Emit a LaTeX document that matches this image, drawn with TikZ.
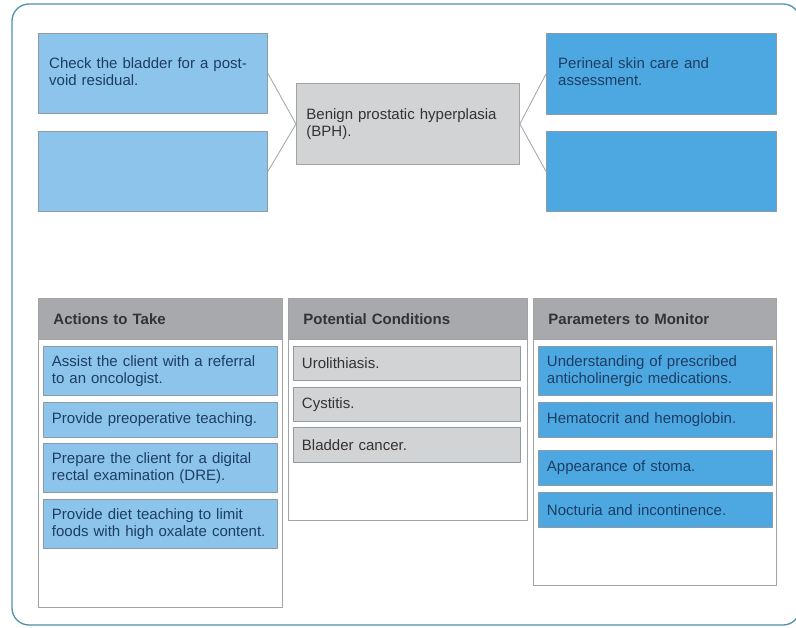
\documentclass[tikz,border=0pt]{standalone}
\usepackage{fontspec}
\setmainfont{Liberation Sans}
\usetikzlibrary{positioning}
\definecolor{frame}{HTML}{4E93A8}
\definecolor{paleblue}{HTML}{8DC4EB}
\definecolor{midblue}{HTML}{4DA8E1}
\definecolor{cellgray}{HTML}{D2D3D5}
\definecolor{headgray}{HTML}{A7A9AC}
\definecolor{edge}{HTML}{8E9AA4}
\definecolor{rule}{HTML}{A3A3A3}
\definecolor{navy}{HTML}{1D3E63}
\definecolor{ink}{HTML}{333333}

\begin{document}
\begin{tikzpicture}[x=1pt,y=-1pt,line join=round,
  font=\fontsize{15}{17.5}\selectfont,
  box/.style={anchor=north west,draw=edge,line width=.9pt,inner sep=0pt},
  boxtext/.style={anchor=north west,align=left,inner sep=0pt,text=navy},
  item/.style={anchor=north west,draw=edge,line width=.9pt,align=left,
    inner xsep=8.5pt,inner ysep=0pt,text=navy},
  column/.style={anchor=north west,draw=rule,line width=.9pt,fill=white,inner sep=0pt},
  colhead/.style={anchor=north west,fill=headgray,draw=rule,line width=.9pt,
    minimum height=41pt,align=left,inner xsep=15pt,text=ink,font=\fontsize{15}{17.5}\selectfont\bfseries},
  link/.style={draw=rule,line width=.8pt}]
  \path[use as bounding box] (0,0) rectangle (796,628);
  \fill[white] (0,0) rectangle (796,628);
  \draw[frame,line width=1.3pt,rounded corners=17pt] (12,4) rectangle (800,625);

  \node[box,fill=paleblue,minimum width=229pt,minimum height=80pt] (chk) at (38,33) {};
  \node[boxtext,text width=205pt] (chktxt) at (49,57) {Check the bladder for a post-\\void residual.};
  \node[box,fill=paleblue,minimum width=229pt,minimum height=80pt] (lblank) at (38,131) {};

  \node[box,fill=cellgray,draw=rule,minimum width=223pt,minimum height=81pt,
    align=left,text width=203pt,inner xsep=10pt,text=ink] (bph) at (296,83) {Benign prostatic hyperplasia\\(BPH).};

  \node[box,fill=midblue,minimum width=230pt,minimum height=81pt] (skin) at (546,33) {};
  \node[boxtext,text width=205pt] (skintxt) at (558,57) {Perineal skin care and\\assessment.};
  \node[box,fill=midblue,minimum width=230pt,minimum height=80pt] (rblank) at (546,131) {};

  \draw[link] (chk.east) -- (bph.west) -- (lblank.east);
  \draw[link] (skin.west) -- (bph.east) -- (rblank.west);

  \node[column,minimum width=244pt,minimum height=309pt] (actcol) at (38,298) {};
  \node[colhead,minimum width=244pt,text width=214pt] (acthead) at (38,298) {Actions to Take};
  \foreach \y/\h/\t [count=\k] in {346/49/{Assist the client with a referral\\to an oncologist.},
      402/35/{Provide preoperative teaching.},
      443/49/{Prepare the client for a digital\\rectal examination (DRE).},
      499/49/{Provide diet teaching to limit\\foods with high oxalate content.}}{
    \node[item,fill=paleblue,minimum height=\h,text width=217pt] (act\k) at (43,\y) {\t};
  }

  \node[column,minimum width=239pt,minimum height=222pt] (concol) at (288,298) {};
  \node[colhead,minimum width=239pt,text width=209pt] (conhead) at (288,298) {Potential Conditions};
  \foreach \y/\h/\t [count=\k] in {346/34/{Urolithiasis.},387/34/{Cystitis.},427/35/{Bladder cancer.}}{
    \node[item,fill=cellgray,text=ink,minimum height=\h,text width=210pt] (con\k) at (293,\y) {\t};
  }

  \node[column,minimum width=243pt,minimum height=287pt] (parcol) at (533,298) {};
  \node[colhead,minimum width=243pt,text width=213pt] (parhead) at (533,298) {Parameters to Monitor};
  \foreach \y/\h/\t [count=\k] in {346/49/{Understanding of prescribed\\anticholinergic medications.},
      402/35/{Hematocrit and hemoglobin.},
      450/35/{Appearance of stoma.},
      492/35/{Nocturia and incontinence.}}{
    \node[item,fill=midblue,minimum height=\h,text width=217pt] (par\k) at (538,\y) {\t};
  }
\end{tikzpicture}
\end{document}
